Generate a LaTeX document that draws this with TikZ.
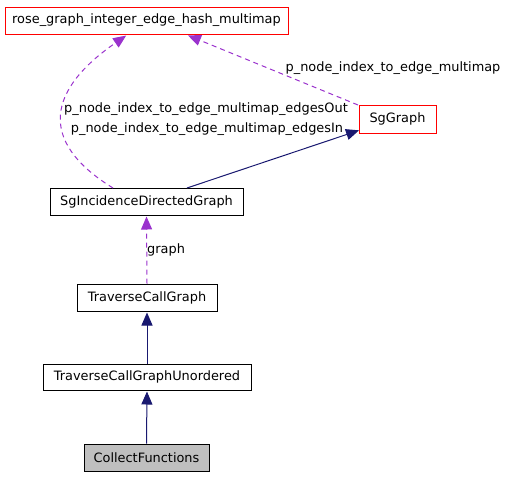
\documentclass[tikz,border=0pt]{standalone}
\usepackage{fontspec}
\setmainfont{DejaVu Sans}
\usetikzlibrary{arrows.meta}
\definecolor{navyedge}{HTML}{191970}
\definecolor{orchid}{HTML}{9A32CD}
\begin{document}
\begin{tikzpicture}[x=1pt,y=-1pt,
  box/.style={draw=black,fill=white,line width=1pt,inner sep=0pt,font=\fontsize{12.9}{15}\selectfont},
  redbox/.style={box,draw=red},
  inh/.style={draw=navyedge,line width=1pt,-{Triangle[length=13pt,width=11pt]},shorten >=1pt},
  use/.style={draw=orchid,line width=1pt,dash pattern=on 5pt off 4pt,-{Triangle[length=13pt,width=11pt]},shorten >=1pt},
  lab/.style={font=\fontsize{12.9}{15}\selectfont,inner sep=0pt}]
\useasboundingbox (0,0) rectangle (505,477);
\node[redbox,minimum width=283pt,minimum height=27pt] (rose) at (146.5,20.5) {rose\_graph\_integer\_edge\_hash\_multimap};
\node[redbox,minimum width=77pt,minimum height=28pt] (sg) at (397.5,119) {SgGraph};
\node[box,minimum width=193pt,minimum height=27pt] (sgi) at (146.5,201.5) {SgIncidenceDirectedGraph};
\node[box,minimum width=140pt,minimum height=27pt] (tcg) at (147,297.5) {TraverseCallGraph};
\node[box,minimum width=208pt,minimum height=26pt] (tcgu) at (147,377) {TraverseCallGraphUnordered};
\node[box,fill=black!25,minimum width=125pt,minimum height=27pt] (cf) at (146.5,457.5) {CollectFunctions};
\coordinate (a1) at (187,188);
\coordinate (a2) at (360,130);
\draw[inh] (a1) -- (a2);
\coordinate (b1) at (113,188);
\coordinate (b2) at (127,35);
\draw[use] (b1) .. controls (35,140) and (50,88) .. (b2);
\coordinate (c1) at (358,105);
\coordinate (c2) at (187,35);
\draw[use] (c1) -- (c2);
\draw[use] (tcg.north) -- (sgi.south);
\draw[inh] (tcgu.north) -- (tcg.south);
\draw[inh] (cf.north) -- (tcgu.south);
\node[lab] (l1) at (206,109.5) {p\_node\_index\_to\_edge\_multimap\_edgesOut};
\node[lab] (l2) at (207,129.5) {p\_node\_index\_to\_edge\_multimap\_edgesIn};
\node[lab] (l3) at (393,68.5) {p\_node\_index\_to\_edge\_multimap};
\node[lab,anchor=west] (l4) at (147,249.5) {graph};
\end{tikzpicture}
\end{document}
